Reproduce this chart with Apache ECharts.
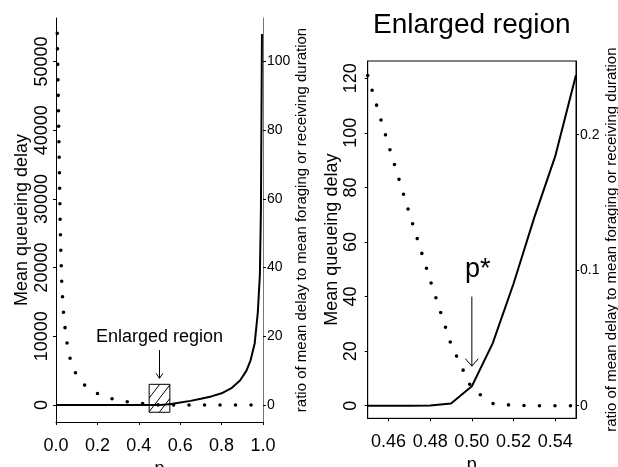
<!DOCTYPE html>
<html><head><meta charset="utf-8">
<script src="https://cdn.jsdelivr.net/npm/echarts@6/dist/echarts.min.js"></script>
<style>html,body{margin:0;padding:0;background:#fff}#c{width:618px;height:467px}</style>
</head><body><div id="c"></div>
<script>
// ---------- Overview panel (p from 0 to 1) ----------
const overviewDelayP = [0.006, 0.021, 0.028, 0.032, 0.037, 0.045, 0.055, 0.071, 0.10, 0.146, 0.211, 0.286, 0.361, 0.435, 0.45, 0.46, 0.47, 0.48, 0.49, 0.50, 0.51, 0.52, 0.53, 0.55, 0.995];
const overviewDelay  = [54100, 25000, 17500, 15400, 13100, 10900, 8600, 6400, 4270, 2620, 1500, 770, 390, 146, 121, 95.5, 70.5, 46, 22.5, 6.2, 0.8, 0.15, 0.02, 0, 0];
const overviewRatioP = [0, 0.45, 0.48, 0.49, 0.50, 0.51, 0.52, 0.53, 0.54, 0.55, 0.60, 0.65, 0.70, 0.75, 0.80, 0.85, 0.89, 0.92, 0.94, 0.96, 0.975, 0.985, 0.99, 0.995];
const overviewRatio  = [0, 0, 0.0002, 0.0016, 0.0144, 0.046, 0.09, 0.139, 0.184, 0.244, 0.7, 1.2, 1.8, 2.5, 3.4, 5.0, 7.2, 10.0, 13.0, 18.0, 27.0, 38.0, 57.0, 108.0];
// ---------- Enlarged panel ----------
const zoomP     = [0.45, 0.46, 0.47, 0.48, 0.49, 0.50, 0.51, 0.52, 0.53, 0.54, 0.55];
const zoomDelay = [121, 95.5, 70.5, 46, 22.5, 6.2, 0.8, 0.15, 0.02, 0, 0];
const zoomRatio = [0, 0, 0, 0.0002, 0.0016, 0.0144, 0.046, 0.09, 0.139, 0.184, 0.244];
// ---------- Tick labels ----------
const overviewPTicks     = [0, 0.2, 0.4, 0.6, 0.8, 1.0];
const overviewDelayTicks = [0, 10000, 20000, 30000, 40000, 50000];
const overviewRatioTicks = [0, 20, 40, 60, 80, 100];
const zoomPTicks     = [0.46, 0.48, 0.50, 0.52, 0.54];
const zoomDelayTicks = [0, 20, 40, 60, 80, 100, 120];
const zoomRatioTicks = [0, 0.1, 0.2];
// ---------- Annotations ----------
const enlargedRange = [0.45, 0.55];
const pStar = 0.50;

const FONT = '"Liberation Sans", Arial, Helvetica, sans-serif';
const pairs = (xs, ys) => xs.map((x, i) => [x, ys[i]]);

function renderOverviewNote(params, api) {
  const tl = api.coord([enlargedRange[0], 3010]);
  const br = api.coord([enlargedRange[1], -1060]);
  const x0 = tl[0], y0 = tl[1], x1 = br[0], y1 = br[1];
  const ch = [{type: 'rect', shape: {x: x0, y: y0, width: x1 - x0, height: y1 - y0},
               style: {fill: 'none', stroke: '#000', lineWidth: 1}}];
  const s = 1.3;
  const cMin = y0, cMax = y1 + s * (x1 - x0);
  for (let i = 1; i <= 3; i++) {
    const c = cMin + (cMax - cMin) * i / 4;
    let xa = x0 + (c - y1) / s, ya = y1;
    if (xa < x0) { xa = x0; ya = c; }
    let xb = x0 + (c - y0) / s, yb = y0;
    if (xb > x1) { xb = x1; yb = c - s * (x1 - x0); }
    ch.push({type: 'line', shape: {x1: xa, y1: ya, x2: xb, y2: yb}, style: {stroke: '#000', lineWidth: 1}});
  }
  const mid = (enlargedRange[0] + enlargedRange[1]) / 2;
  const a = api.coord([mid, 8000]);
  const b = api.coord([mid, 3890]);
  ch.push({type: 'line', shape: {x1: a[0], y1: a[1], x2: b[0], y2: b[1]}, style: {stroke: '#000', lineWidth: 1}});
  ch.push({type: 'polyline', shape: {points: [[b[0] - 3.5, b[1] - 5], [b[0], b[1]], [b[0] + 3.5, b[1] - 5]]},
           style: {fill: 'none', stroke: '#000', lineWidth: 1}});
  const t = api.coord([mid, 9840]);
  ch.push({type: 'text', style: {text: 'Enlarged region', x: t[0], y: t[1], font: '18px ' + FONT,
           fill: '#000', align: 'center', verticalAlign: 'middle'}});
  return {type: 'group', children: ch};
}

function renderZoomNote(params, api) {
  const ch = [];
  const a = api.coord([pStar, 40]);
  const b = api.coord([pStar, 14.5]);
  ch.push({type: 'line', shape: {x1: a[0], y1: a[1], x2: b[0], y2: b[1]}, style: {stroke: '#000', lineWidth: 1}});
  ch.push({type: 'polyline', shape: {points: [[b[0] - 6.5, b[1] - 7.5], [b[0], b[1]], [b[0] + 6.5, b[1] - 7.5]]},
           style: {fill: 'none', stroke: '#000', lineWidth: 1}});
  const t = api.coord([pStar, 50]);
  ch.push({type: 'text', style: {text: 'p*', x: t[0] + 6, y: t[1], font: '27px ' + FONT,
           fill: '#000', align: 'center', verticalAlign: 'middle'}});
  return {type: 'group', children: ch};
}

const axisBase = (extra) => Object.assign({
  type: 'value',
  splitLine: {show: false},
  axisLine: {show: true, onZero: false, lineStyle: {color: '#000', width: 1}},
  axisTick: {show: true, length: 3, lineStyle: {color: '#000'}},
  nameTextStyle: {color: '#000', fontFamily: FONT}
}, extra);

const chart = echarts.init(document.getElementById('c'), null, {renderer: 'canvas'});
chart.setOption({
  animation: false,
  backgroundColor: '#fff',
  textStyle: {fontFamily: FONT, color: '#000'},
  graphic: [{type: 'text', style: {text: 'Enlarged region', x: 471.8, y: 25, font: '28px ' + FONT,
             fill: '#000', align: 'center', verticalAlign: 'middle'}}],
  grid: [
    {left: 56, top: 18, width: 207, height: 404, show: false, outerBoundsMode: 'none', containLabel: false},
    {left: 367.7, top: 61, width: 208.3, height: 357.3, show: true, borderColor: '#000', borderWidth: 1,
     backgroundColor: 'transparent', outerBoundsMode: 'none', containLabel: false}
  ],
  xAxis: [
    axisBase({gridIndex: 0, min: 0, max: 1,
      axisTick: {show: true, length: 3, customValues: overviewPTicks, lineStyle: {color: '#000'}},
      axisLabel: {customValues: overviewPTicks, formatter: v => v.toFixed(1), fontSize: 18, color: '#000', margin: 15, fontFamily: FONT},
      name: 'p', nameLocation: 'middle', nameGap: 30, nameTextStyle: {fontSize: 18, color: '#000', fontFamily: FONT}}),
    axisBase({gridIndex: 1, min: 0.45, max: 0.55,
      axisTick: {show: true, length: 3, customValues: zoomPTicks, lineStyle: {color: '#000'}},
      axisLabel: {customValues: zoomPTicks, formatter: v => v.toFixed(2), fontSize: 18, color: '#000', margin: 15, fontFamily: FONT},
      name: 'p', nameLocation: 'middle', nameGap: 33, nameTextStyle: {fontSize: 18, color: '#000', fontFamily: FONT}})
  ],
  yAxis: [
    axisBase({gridIndex: 0, position: 'left', min: -2475, max: 56332,
      axisTick: {show: true, length: 3, customValues: overviewDelayTicks, lineStyle: {color: '#000'}},
      axisLabel: {customValues: overviewDelayTicks, formatter: v => String(v), rotate: 90, fontSize: 18, color: '#000', margin: 5, fontFamily: FONT},
      name: 'Mean queueing delay', nameLocation: 'middle', nameRotate: 90, nameGap: 25,
      nameTextStyle: {fontSize: 18, color: '#000', fontFamily: FONT}}),
    axisBase({gridIndex: 0, position: 'right', min: -4.95, max: 112.66,
      axisLine: {show: true, onZero: false, lineStyle: {color: '#777', width: 1}},
      axisTick: {show: true, length: 3, customValues: overviewRatioTicks, lineStyle: {color: '#000'}},
      axisLabel: {customValues: overviewRatioTicks, formatter: v => String(v), fontSize: 14, color: '#000', margin: 4, fontFamily: FONT},
      name: 'ratio of mean delay to mean foraging or receiving duration', nameLocation: 'middle', nameRotate: 90, nameGap: 29,
      nameTextStyle: {fontSize: 15, color: '#000', fontFamily: FONT}}),
    axisBase({gridIndex: 1, position: 'left', min: -4.6, max: 126.3,
      axisTick: {show: true, length: 3, customValues: zoomDelayTicks, lineStyle: {color: '#000'}},
      axisLabel: {customValues: zoomDelayTicks, formatter: v => String(v), rotate: 90, fontSize: 18, color: '#000', margin: 8, fontFamily: FONT},
      name: 'Mean queueing delay', nameLocation: 'middle', nameRotate: 90, nameGap: 22,
      nameTextStyle: {fontSize: 18, color: '#000', fontFamily: FONT}}),
    axisBase({gridIndex: 1, position: 'right', min: -0.0093, max: 0.2544,
      axisTick: {show: true, length: 3, customValues: zoomRatioTicks, lineStyle: {color: '#000'}},
      axisLabel: {customValues: zoomRatioTicks, formatter: v => String(v), fontSize: 14, color: '#000', margin: 4, fontFamily: FONT},
      name: 'ratio of mean delay to mean foraging or receiving duration', nameLocation: 'middle', nameRotate: 90, nameGap: 28,
      nameTextStyle: {fontSize: 15, color: '#000', fontFamily: FONT}})
  ],
  series: [
    {type: 'line', xAxisIndex: 0, yAxisIndex: 0, data: pairs(overviewDelayP, overviewDelay), showSymbol: false, silent: true,
     lineStyle: {color: '#000', width: 3.6, type: [0, 15.5], cap: 'round'}},
    {type: 'line', xAxisIndex: 0, yAxisIndex: 1, data: pairs(overviewRatioP, overviewRatio), showSymbol: false, silent: true,
     lineStyle: {color: '#000', width: 2}},
    {type: 'line', xAxisIndex: 1, yAxisIndex: 2, data: pairs(zoomP, zoomDelay), showSymbol: false, silent: true, clip: false,
     lineStyle: {color: '#000', width: 3.6, type: [0, 15.5], cap: 'round'}},
    {type: 'line', xAxisIndex: 1, yAxisIndex: 3, data: pairs(zoomP, zoomRatio), showSymbol: false, silent: true, clip: false,
     lineStyle: {color: '#000', width: 2}},
    {type: 'custom', xAxisIndex: 0, yAxisIndex: 0, data: [[0.5, 9840]], renderItem: renderOverviewNote, silent: true},
    {type: 'custom', xAxisIndex: 1, yAxisIndex: 2, data: [[pStar, 50]], renderItem: renderZoomNote, silent: true}
  ]
});
</script>
</body></html>
